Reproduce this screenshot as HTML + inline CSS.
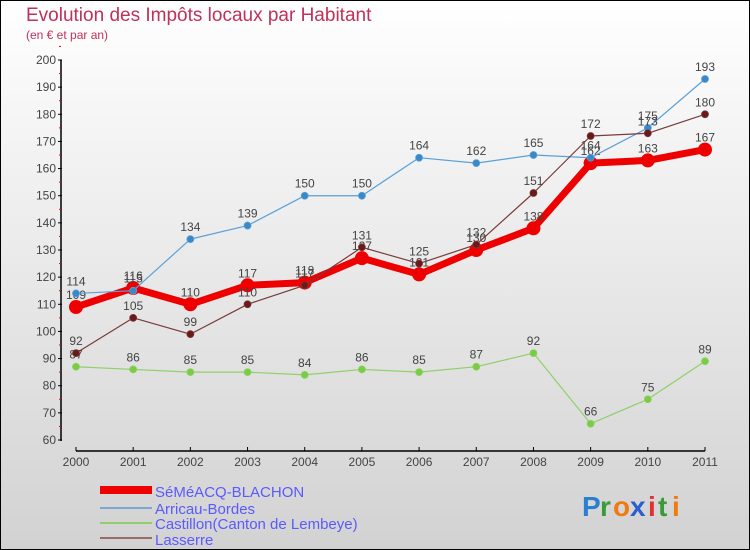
<!DOCTYPE html>
<html><head><meta charset="utf-8"><style>
body{margin:0}
#c{width:750px;height:550px;position:relative;box-sizing:border-box;border:1px solid #000;background:linear-gradient(#fff,#d2d2d2);font-family:"Liberation Sans",sans-serif;overflow:hidden}
</style></head><body>
<div id="c">
<svg width="750" height="550" style="position:absolute;left:-1px;top:-1px">
<text x="26" y="21" font-size="19" fill="#c0305a">Evolution des Impôts locaux par Habitant</text>
<text x="26" y="39" font-size="12" fill="#c0305a">(en € et par an)</text>
<g id="axes"></g><g id="series"></g>
<g>
<rect x="100" y="486" width="52" height="8" fill="#e00"/>
<text x="155" y="497" font-size="15" fill="#5a5aff">SéMéACQ-BLACHON</text>
<rect x="100" y="507" width="52" height="2" fill="#7aa8d0"/>
<text x="155" y="514" font-size="15" fill="#5a5aff">Arricau-Bordes</text>
<rect x="100" y="522" width="52" height="2" fill="#8fd06a"/>
<text x="155" y="529" font-size="15" fill="#5a5aff">Castillon(Canton de Lembeye)</text>
<rect x="100" y="537" width="52" height="2" fill="#9a6a6a"/>
<text x="155" y="545" font-size="15" fill="#5a5aff">Lasserre</text>
</g>
<g font-size="28" font-weight="bold">
<text x="582" y="516" fill="#2a7fd0">P</text><text x="600" y="516" fill="#3a9a3a">r</text><text x="613" y="516" fill="#f07a10">o</text><text x="630" y="516" fill="#2a5fd0">x</text><text x="648" y="516" fill="#e03030">i</text><text x="658" y="516" fill="#3a9a3a">t</text><text x="672" y="516" fill="#f07a10">i</text>
</g>
</svg>
</div>
<script>
const years=[2000,2001,2002,2003,2004,2005,2006,2007,2008,2009,2010,2011];
const yTicks=[60,70,80,90,100,110,120,130,140,150,160,170,180,190,200];
const semeacq=[109,116,110,117,118,127,121,130,138,162,163,167];
const arricau=[114,115,134,139,150,150,164,162,165,164,175,193];
const castillon=[87,86,85,85,84,86,85,87,92,66,75,89];
const lasserre=[92,105,99,110,117,131,125,132,151,172,173,180];
const NS="http://www.w3.org/2000/svg";
function xs(i){return 76+i*(705-76)/(years.length-1);}
function ys(v){return 440-(v-60)*(380/140);}
function mk(t,a,p){const e=document.createElementNS(NS,t);for(const k in a)e.setAttribute(k,a[k]);p.appendChild(e);return e;}
const ax=document.getElementById('axes');
const yl=mk('line',{x1:61,y1:60,x2:61,y2:441,stroke:'#000','stroke-width':1.5},ax);


yTicks.forEach(v=>{
 mk('line',{x1:58,y1:ys(v),x2:62,y2:ys(v),stroke:'#000'},ax);
 mk('line',{x1:59,y1:ys(v+5),x2:61,y2:ys(v+5),stroke:'#e00'},ax);
 const t=mk('text',{x:56,y:ys(v)+4,'text-anchor':'end','font-size':12,fill:'#444'},ax);t.textContent=v;
 
 
});
const xl=mk('line',{x1:76,y1:451,x2:705,y2:451,stroke:'#000','stroke-width':1.5},ax);


years.forEach((y,i)=>{
 mk('line',{x1:xs(i),y1:447,x2:xs(i),y2:451,stroke:'#000'},ax);
 const t=mk('text',{x:xs(i),y:466,'text-anchor':'middle','font-size':12,fill:'#444'},ax);t.textContent=y;
 
 
});
const sg=document.getElementById('series');
function draw(name,vals,col,dot,w,r){
 const g=mk('g',{},sg);
 
 
 mk('polyline',{points:vals.map((v,i)=>xs(i)+','+ys(v)).join(' '),fill:'none',stroke:col,'stroke-width':w,'stroke-linejoin':'round'},g);
 vals.forEach((v,i)=>{
  const c=mk('circle',{cx:xs(i),cy:ys(v),r:r,fill:dot,stroke:col,'stroke-width':r>4?0:0.8},g);
  
  
  const t=mk('text',{x:xs(i),y:ys(v)-8,'text-anchor':'middle','font-size':12,fill:'#444'},g);t.textContent=v;
  
  
 });
}
draw('semeacq',semeacq,'#ee0000','#ee0000',7,7);
draw('arricau',arricau,'#5aa0d8','#3a88c8',1.2,3.5);
draw('castillon',castillon,'#8fd06a','#7acc40',1.2,3.5);
draw('lasserre',lasserre,'#7a3a3a','#6a1a1a',1.2,3.5);
</script>
</body></html>
